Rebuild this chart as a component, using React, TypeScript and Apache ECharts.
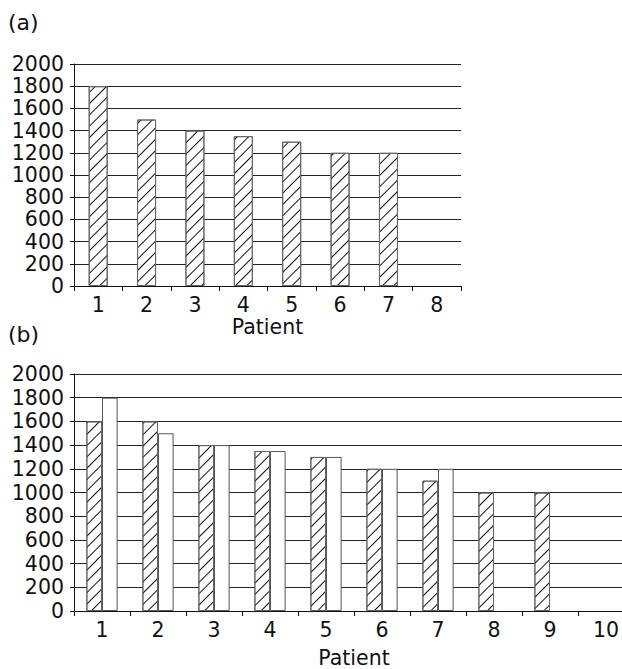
import React, { useEffect, useRef } from "react";
import * as echarts from "echarts";

const patientsA = ["1", "2", "3", "4", "5", "6", "7", "8"];
const valuesA: (number | string)[] = [1800, 1500, 1400, 1350, 1300, 1200, 1200, "-"];

const patientsB = ["1", "2", "3", "4", "5", "6", "7", "8", "9", "10"];
const hatchedB: (number | string)[] = [1600, 1600, 1400, 1350, 1300, 1200, 1100, 1000, 1000, "-"];
const plainB: (number | string)[] = [1800, 1500, 1400, 1350, 1300, 1200, 1200, "-", "-", "-"];

const yTicksMax = 2000;
const yInterval = 200;

const FONT = "DejaVu Sans";
const FS = 20.5;

export default function App() {
  const ref = useRef<HTMLDivElement>(null);
  useEffect(() => {
    if (!ref.current) return;
    const chart = echarts.init(ref.current, undefined, { renderer: "svg" });
    const hatch = {
      symbol: "rect",
      symbolSize: 1,
      dashArrayX: [1, 0],
      dashArrayY: [1, 7],
      rotation: -Math.PI / 4,
      color: "#111",
    };
    const yAxisBase = (gridIndex: number) => ({
      type: "value",
      gridIndex,
      min: 0,
      max: yTicksMax,
      interval: yInterval,
      axisLine: { show: true, lineStyle: { color: "#111", width: 1 } },
      axisTick: { show: true, length: 4, lineStyle: { color: "#111" } },
      axisLabel: {
        fontFamily: FONT,
        fontSize: FS,
        color: "#111",
        margin: 10,
        formatter: (v: number) => String(v),
      },
      splitLine: { show: true, lineStyle: { color: "#222", width: 1.2 } },
    });
    const xAxisBase = (gridIndex: number, data: string[], nameGap: number) => ({
      type: "category",
      gridIndex,
      data,
      boundaryGap: true,
      name: "Patient",
      nameLocation: "middle",
      nameGap,
      nameTextStyle: { fontFamily: FONT, fontSize: FS, color: "#111" },
      axisLine: { show: true, lineStyle: { color: "#111", width: 1 } },
      axisTick: { show: true, length: 5, alignWithLabel: false, lineStyle: { color: "#111" } },
      axisLabel: { fontFamily: FONT, fontSize: FS, color: "#111", margin: 8, interval: 0 },
      splitLine: { show: false },
    });
    chart.setOption({
      animation: false,
      backgroundColor: "#fff",
      textStyle: { fontFamily: FONT },
      grid: [
        { left: 74, top: 64, width: 387, height: 222, containLabel: false },
        { left: 74, top: 374, width: 560, height: 238, containLabel: false },
      ],
      xAxis: [xAxisBase(0, patientsA, 30), xAxisBase(1, patientsB, 36)],
      yAxis: [yAxisBase(0), yAxisBase(1)],
      series: [
        {
          type: "bar",
          xAxisIndex: 0,
          yAxisIndex: 0,
          data: valuesA,
          barWidth: 19,
          itemStyle: { color: "#fff", borderColor: "#666", borderWidth: 1, decal: hatch },
        },
        {
          type: "bar",
          xAxisIndex: 1,
          yAxisIndex: 1,
          data: hatchedB,
          barWidth: 15.6,
          barGap: "0%",
          itemStyle: { color: "#fff", borderColor: "#666", borderWidth: 1, decal: hatch },
        },
        {
          type: "bar",
          xAxisIndex: 1,
          yAxisIndex: 1,
          data: plainB,
          barWidth: 15.6,
          barGap: "0%",
          itemStyle: { color: "#fff", borderColor: "#555", borderWidth: 1 },
        },
      ],
      graphic: [
        { type: "text", left: 8, top: 11, style: { text: "(a)", fontFamily: FONT, fontSize: 22, fill: "#111" } },
        { type: "text", left: 8, top: 323, style: { text: "(b)", fontFamily: FONT, fontSize: 22, fill: "#111" } },
      ],
    });
    return () => chart.dispose();
  }, []);
  return (
    <div style={{ position: "absolute", left: 0, top: 0, width: 622, height: 669, overflow: "hidden", background: "#fff" }}>
      <div ref={ref} style={{ width: 640, height: 669 }} />
    </div>
  );
}
